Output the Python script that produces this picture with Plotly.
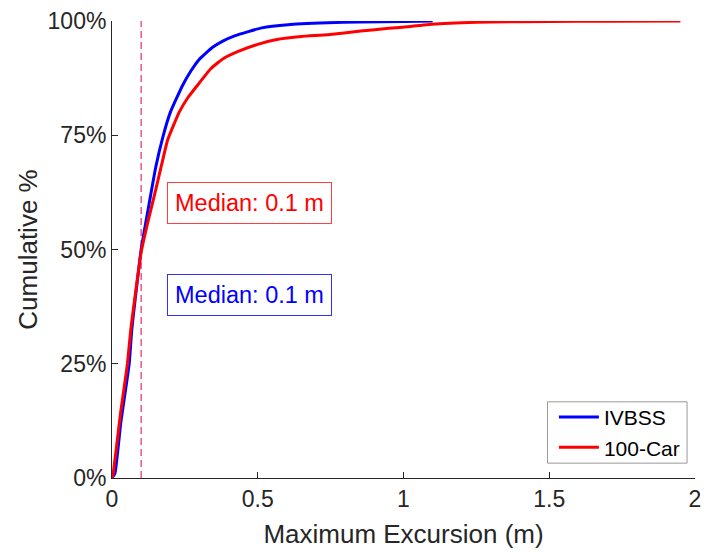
import plotly.graph_objects as go

# IVBSS cumulative distribution (x in m, y in %)
ivbss_x = [0, 0.01, 0.03, 0.059, 0.068, 0.1, 0.129, 0.15, 0.174, 0.2, 0.242, 0.27, 0.299,
           0.344, 0.38, 0.423, 0.514, 0.604, 0.74, 0.85, 1.0, 1.1]
ivbss_y = [0, 1, 12, 25, 32.5, 50, 60.6, 68, 74.5, 80, 85.9, 89, 91.6,
           94.2, 95.6, 96.8, 98.5, 99.2, 99.6, 99.8, 99.9, 100]

# 100-Car cumulative distribution
car_x = [0, 0.004, 0.03, 0.053, 0.0645, 0.1, 0.123, 0.146, 0.17, 0.191, 0.231, 0.26, 0.288,
         0.338, 0.38, 0.435, 0.5, 0.57, 0.65, 0.74, 0.853, 0.95, 1.023, 1.08, 1.2, 1.3,
         1.5, 1.7, 1.95]
car_y = [0, 1, 14.5, 25, 32.5, 49.4, 56, 62, 68.5, 74, 80.1, 83.2, 85.5,
         89.5, 91.7, 93.4, 94.9, 96.0, 96.6, 97.0, 97.8, 98.4, 98.8, 99.2, 99.6, 99.8,
         99.9, 99.95, 100]

median_value = 0.1
y_ticks = [0, 25, 50, 75, 100]
y_tick_labels = ["0%", "25%", "50%", "75%", "100%"]
x_ticks = [0, 0.5, 1, 1.5, 2]
x_tick_labels = ["0", "0.5", "1", "1.5", "2"]

FONT = "Liberation Sans, Arial, sans-serif"
AX = "#262626"

fig = go.Figure()
fig.add_trace(go.Scatter(x=ivbss_x, y=ivbss_y, mode="lines", name="IVBSS",
                         line=dict(color="#0000FF", width=3, shape="spline", smoothing=0.4)))
fig.add_trace(go.Scatter(x=car_x, y=car_y, mode="lines", name="100-Car",
                         line=dict(color="#FF0000", width=3, shape="spline", smoothing=0.4)))

fig.add_shape(type="line", xref="x", yref="y", x0=median_value, x1=median_value, y0=0, y1=100,
              line=dict(color="rgb(228,60,120)", width=1.3, dash="7px,4px"), layer="below")

# legend frame
fig.add_shape(type="rect", xref="paper", yref="paper", x0=0.747, x1=0.9864, y0=0.0325, y1=0.1667,
              line=dict(color="#999999", width=1), fillcolor="white", layer="above")

fig.add_annotation(x=0.19, y=60.2, xref="x", yref="y", xanchor="left", yanchor="middle",
                   text=f"Median: {median_value} m", showarrow=False,
                   font=dict(family=FONT, size=23.5, color="#FF0000"),
                   bordercolor="#FF4040", borderwidth=1, borderpad=7, bgcolor="white")
fig.add_annotation(x=0.19, y=40.0, xref="x", yref="y", xanchor="left", yanchor="middle",
                   text=f"Median: {median_value} m", showarrow=False,
                   font=dict(family=FONT, size=23.5, color="#0000FF"),
                   bordercolor="#3030FF", borderwidth=1, borderpad=7, bgcolor="white")

fig.update_layout(
    width=709, height=552,
    margin=dict(l=112, r=8, t=18, b=72),
    plot_bgcolor="white", paper_bgcolor="white",
    font=dict(family=FONT, color=AX),
    showlegend=True,
    legend=dict(x=0.758, y=0.1775, xanchor="left", yanchor="top",
                bgcolor="rgba(0,0,0,0)", borderwidth=0,
                font=dict(family=FONT, size=21, color="#000000"),
                tracegroupgap=0, itemwidth=40),
)
fig.update_xaxes(range=[0, 2], tickvals=x_ticks, ticktext=x_tick_labels,
                 showgrid=False, zeroline=False, showline=True, linecolor=AX, linewidth=1,
                 ticks="inside", ticklen=6, tickcolor=AX,
                 tickfont=dict(family=FONT, size=23, color=AX),
                 title=dict(text="Maximum Excursion (m)", font=dict(family=FONT, size=26, color=AX),
                            standoff=14))
fig.update_yaxes(range=[0, 100], tickvals=y_ticks, ticktext=y_tick_labels,
                 showgrid=False, zeroline=False, showline=True, linecolor=AX, linewidth=1,
                 ticks="inside", ticklen=6, tickcolor=AX,
                 tickfont=dict(family=FONT, size=23, color=AX),
                 title=dict(text="Cumulative %", font=dict(family=FONT, size=26, color=AX),
                            standoff=2))

fig.write_html("out.html")
